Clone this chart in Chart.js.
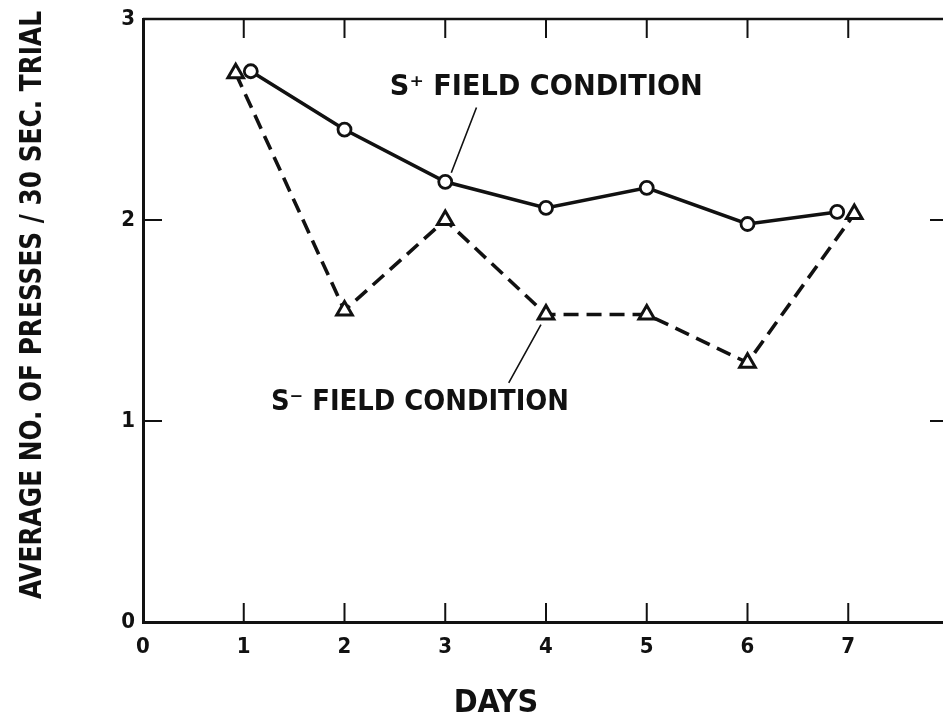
<!DOCTYPE html>
<html>
<head>
<meta charset="utf-8">
<script src="https://cdn.jsdelivr.net/npm/chart.js@4.4.1/dist/chart.umd.min.js"></script>
<style>
    html, body { margin: 0; padding: 0; background: #fff; overflow: hidden; width: 943px; height: 726px; }
    #wrap { position: relative; width: 943px; height: 726px; overflow: hidden; }
    #pressChart { display: block; }
</style>
</head>
<body>
<!-- el lienzo es mas ancho que la ventana: el borde derecho del original queda cortado -->
<div id="wrap"><canvas id="pressChart" width="961" height="726"></canvas></div>
<script>
// datos (los dias 1 y 7 van un poco corridos para que no se tapen)
const sPlusDays = [1.07, 2, 3, 4, 5, 6, 6.89];
const sPlusPresses = [2.74, 2.45, 2.19, 2.06, 2.16, 1.98, 2.04];
const sMinusDays = [0.92, 2, 3, 4, 5, 6, 7.06];
const sMinusPresses = [2.73, 1.55, 2.00, 1.53, 1.53, 1.29, 2.03];

const dayTicks = [0, 1, 2, 3, 4, 5, 6, 7];
const pressTicks = [0, 1, 2, 3];

const yTitle = 'AVERAGE NO. OF PRESSES / 30 SEC. TRIAL';
const xTitle = 'DAYS';
const sPlusLabel = 'S\u207A FIELD CONDITION';
const sMinusLabel = 'S\u207B FIELD CONDITION';

const ink = '#111';
const letterFont = '"DejaVu Sans Condensed", "DejaVu Sans", sans-serif';

// escribe un texto estirado/encogido a un ancho dado
function fitText(ctx, text, x, y, width) {
    const w = ctx.measureText(text).width;
    ctx.save();
    ctx.translate(x, y);
    ctx.scale(width / w, 1);
    ctx.fillText(text, 0, 0);
    ctx.restore();
}

// marcas hacia adentro, marco y rotulos a mano
const figurePlugin = {
    id: 'figurePlugin',
    afterDatasetsDraw(chart) {
        const ctx = chart.ctx;
        const a = chart.chartArea;
        const xs = chart.scales.x;
        const ys = chart.scales.y;
        ctx.save();
        ctx.strokeStyle = ink;
        ctx.lineCap = 'butt';

        // marco superior y derecho
        ctx.lineWidth = 2.5;
        ctx.beginPath();
        ctx.moveTo(a.left, a.top);
        ctx.lineTo(a.right, a.top);
        ctx.lineTo(a.right, a.bottom);
        ctx.stroke();

        // ticks hacia adentro
        ctx.lineWidth = 2;
        dayTicks.slice(1).forEach(d => {
            const px = xs.getPixelForValue(d);
            ctx.beginPath();
            ctx.moveTo(px, a.bottom);
            ctx.lineTo(px, a.bottom - 19);
            ctx.moveTo(px, a.top);
            ctx.lineTo(px, a.top + 19);
            ctx.stroke();
        });
        pressTicks.slice(1, -1).forEach(v => {
            const py = ys.getPixelForValue(v);
            ctx.beginPath();
            ctx.moveTo(a.left, py);
            ctx.lineTo(a.left + 19, py);
            ctx.moveTo(a.right, py);
            ctx.lineTo(a.right - 19, py);
            ctx.stroke();
        });

        // lineas que señalan cada serie
        ctx.lineWidth = 1.6;
        ctx.beginPath();
        ctx.moveTo(xs.getPixelForValue(3.06), ys.getPixelForValue(2.235));
        ctx.lineTo(xs.getPixelForValue(3.31), ys.getPixelForValue(2.56));
        ctx.moveTo(xs.getPixelForValue(3.95), ys.getPixelForValue(1.48));
        ctx.lineTo(xs.getPixelForValue(3.63), ys.getPixelForValue(1.19));
        ctx.stroke();

        // textos
        ctx.fillStyle = ink;
        ctx.textBaseline = 'middle';
        ctx.textAlign = 'left';
        ctx.font = 'bold 28px ' + letterFont;
        fitText(ctx, sPlusLabel, xs.getPixelForValue(2.45), ys.getPixelForValue(2.66), 313);
        fitText(ctx, sMinusLabel, xs.getPixelForValue(1.27), ys.getPixelForValue(1.09), 298);

        ctx.textAlign = 'center';
        ctx.font = 'bold 32px ' + letterFont;
        ctx.fillText(xTitle, 496, 704);

        ctx.translate(33, 305);
        ctx.rotate(-Math.PI / 2);
        ctx.font = 'bold 30px ' + letterFont;
        fitText(ctx, yTitle, 0, 0, 588);
        ctx.restore();
    }
};

const ctxPress = document.getElementById('pressChart');

const pressChart = new Chart(ctxPress, {
    type: 'scatter',
    data: {
        datasets: [{
            label: 'S- field condition',
            data: sMinusDays.map((d, i) => ({ x: d, y: sMinusPresses[i] })),
            showLine: true,
            borderColor: ink,
            borderWidth: 3.6,
            borderDash: [15, 8],
            pointStyle: 'triangle',
            pointRadius: 9,
            pointBorderWidth: 3,
            pointBackgroundColor: '#fff',
            pointBorderColor: ink
        }, {
            label: 'S+ field condition',
            data: sPlusDays.map((d, i) => ({ x: d, y: sPlusPresses[i] })),
            showLine: true,
            borderColor: ink,
            borderWidth: 3.6,
            pointStyle: 'circle',
            pointRadius: 6.5,
            pointBorderWidth: 2.8,
            pointBackgroundColor: '#fff',
            pointBorderColor: ink
        }]
    },
    options: {
        responsive: false,
        animation: false,
        layout: {
            padding: { top: 19, right: 0, left: 0, bottom: 0 }
        },
        plugins: {
            legend: { display: false },
            tooltip: { enabled: false }
        },
        scales: {
            x: {
                type: 'linear',
                min: 0,
                max: 8,
                afterFit: s => {
                    s.height = 104;
                    s.paddingLeft = 0;
                    s.paddingRight = 0;
                },
                afterBuildTicks: s => { s.ticks = dayTicks.concat([8]).map(v => ({ value: v })); },
                grid: { display: false, drawTicks: false },
                border: { display: true, color: ink, width: 3 },
                ticks: {
                    color: ink,
                    padding: 12,
                    maxRotation: 0,
                    font: { family: letterFont, size: 22, weight: 'bold' },
                    callback: v => (v <= 7 ? String(v) : '')
                }
            },
            y: {
                type: 'linear',
                min: 0,
                max: 3,
                afterFit: s => {
                    s.width = 143;
                    s.paddingTop = 0;
                    s.paddingBottom = 0;
                },
                afterBuildTicks: s => { s.ticks = pressTicks.map(v => ({ value: v })); },
                grid: { display: false, drawTicks: false },
                border: { display: true, color: ink, width: 3 },
                ticks: {
                    color: ink,
                    padding: 8,
                    font: { family: letterFont, size: 22, weight: 'bold' }
                }
            }
        }
    },
    plugins: [figurePlugin]
});
</script>
</body>
</html>
